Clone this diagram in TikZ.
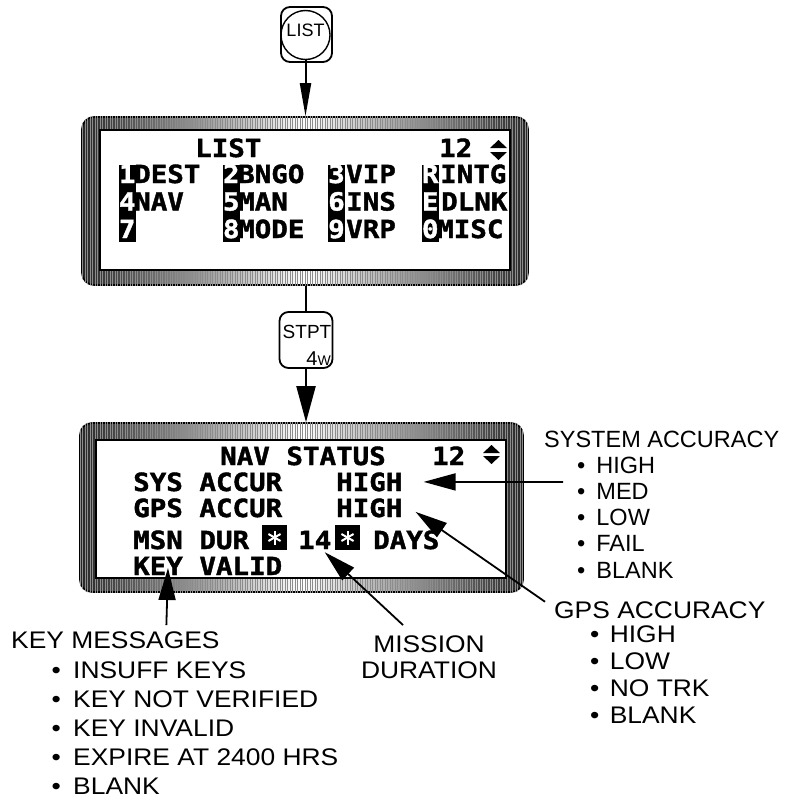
\documentclass[tikz,border=0pt]{standalone}
\usepackage{fontspec}
\setsansfont{Liberation Sans}
\newfontfamily\lblfont[FakeStretch=1.1]{Liberation Sans}
\newfontfamily\lcdfont[FakeStretch=1.1, FakeBold=1.6]{DejaVu Sans Mono}
\usetikzlibrary{arrows.meta, patterns.meta}

\begin{document}
\begin{tikzpicture}[x=1pt, y=-1pt,
    bezel/.style={draw, line width=1.6, rounded corners=12,
      left color=black!85, right color=black!85, middle color=white},
    screen/.style={draw, line width=1.4, fill=white},
    keycap/.style={draw, line width=1.8, rounded corners=9},
    keyname/.style={font=\sffamily\fontsize{17}{17}\selectfont, inner sep=0},
    lcd/.style={font=\lcdfont\bfseries\fontsize{25}{25}\selectfont,
      anchor=base west, inner sep=0},
    lcdinv/.style={lcd, anchor=base, text=white},
    invbar/.style={fill=black, inner sep=0, anchor=north west},
    starbox/.style={fill=black, inner sep=0, minimum size=25},
    hdr/.style={font=\lblfont\fontsize{24}{26}\selectfont,
      anchor=base west, inner sep=0},
    sysitem/.style={hdr, font=\sffamily\fontsize{23.5}{26}\selectfont},
    callout/.style={line width=1.8, -{Triangle[length=32pt, width=17pt]}},
    keyarrow/.style={line width=2, -{Triangle[length=33pt, width=11pt]}},
    keyarrowwide/.style={line width=2, -{Triangle[length=36pt, width=19pt]}}]
  \useasboundingbox (0,0) rectangle (785,800);

  % LIST key
  \node[keycap, minimum width=51, minimum height=55] (listkey) at (306.5,34.5) {};
  \node[draw, circle, line width=1.4, minimum size=49, inner sep=0] (listring)
    at (305.5,35) {};
  \node[keyname, font=\sffamily\fontsize{18}{18}\selectfont] (listtxt)
    at (305.5,30) {LIST};

  % top display
  \node[bezel, minimum width=446, minimum height=168] (topdisp) at (305,201) {};
  \path[pattern={Lines[angle=90, distance=2.5pt, line width=0.7pt]},
    pattern color=black!45, rounded corners=12]
    (topdisp.south west) rectangle (topdisp.north east);
  \node[screen, minimum width=410, minimum height=140] (topscr) at (305,200) {};
  \node[lcd] (listhd) at (195,157) {LIST};
  \node[lcd] (listpg) at (439,157) {12};
  \fill (490,148) -- (498.5,140) -- (507,148) -- cycle;
  \fill (490,152) -- (498.5,160) -- (507,152) -- cycle;
  \foreach \x/\n in {119/c1, 223/c2, 328/c3, 422/c4}
    \node[invbar, minimum width=16.5, minimum height=77] (bar\n) at (\x,165) {};
  \foreach \cx/\a/\b/\c in {127.25/1/4/7, 231.25/2/5/8, 336.5/3/6/9, 430.25/R/E/0} {
    \node[lcdinv] (k\a) at (\cx,183) {\a};
    \node[lcdinv] (k\b) at (\cx,210.5) {\b};
    \node[lcdinv] (k\c) at (\cx,238) {\c};
  }
  \node[lcd] (dest) at (134,183) {DEST};
  \node[lcd] (nav) at (134,210.5) {NAV};
  \node[lcd] (bngo) at (238,183) {BNGO};
  \node[lcd] (man) at (238,210.5) {MAN};
  \node[lcd] (mode) at (238,238) {MODE};
  \node[lcd] (vip) at (346,183) {VIP};
  \node[lcd] (ins) at (346,210.5) {INS};
  \node[lcd] (vrp) at (346,238) {VRP};
  \node[lcd] (intg) at (440,183) {INTG};
  \node[lcd] (dlnk) at (441,210.5) {DLNK};
  \node[lcd] (misc) at (437,238) {MISC};

  % STPT key
  \node[keycap, minimum width=53, minimum height=56] (stptkey) at (306,340) {};
  \node[keyname, font=\sffamily\fontsize{19}{19}\selectfont, anchor=base]
    (stpttxt) at (307,338) {STPT};
  \node[keyname, font=\sffamily\fontsize{20}{20}\selectfont, anchor=base east]
    (stptsub) at (331,365) {4{\fontsize{14}{14}\selectfont W}};

  % bottom display
  \node[bezel, minimum width=443, minimum height=169] (botdisp) at (301.5,507.5) {};
  \path[pattern={Lines[angle=90, distance=2.5pt, line width=0.7pt]},
    pattern color=black!45, rounded corners=12]
    (botdisp.south west) rectangle (botdisp.north east);
  \node[screen, minimum width=410, minimum height=138] (botscr) at (301,509) {};
  \node[lcd] (navst) at (220,465) {NAV STATUS};
  \node[lcd] (navpg) at (432,465) {12};
  \fill (483,453) -- (491.5,445) -- (500,453) -- cycle;
  \fill (483,456) -- (491.5,464) -- (500,456) -- cycle;
  \node[lcd] (sysacc) at (133,491) {SYS ACCUR};
  \node[lcd] (syshigh) at (336,491) {HIGH};
  \node[lcd] (gpsacc) at (133,517) {GPS ACCUR};
  \node[lcd] (gpshigh) at (336,517) {HIGH};
  \node[lcd] (msndur) at (133,549) {MSN DUR};
  \node[starbox] (star1) at (274.5,537.5) {};
  \node[lcd] (dur14) at (298,549) {14};
  \node[starbox] (star2) at (347.5,537.5) {};
  \node[lcd] (days) at (373,549) {DAYS};
  \node[lcd] (keyval) at (133,575) {KEY VALID};
  \foreach \s in {star1, star2}
    \foreach \a in {90, 30, 150}
      \draw[white, line width=2] ([shift={(\a:7)}]\s.center)
        -- ([shift={(\a+180:7)}]\s.center);

  % key connectors
  \draw[keyarrow] (listring.south) -- (listring.south |- topdisp.north);
  \draw[line width=2] (topdisp.south -| stptkey.north) -- (stptkey.north);
  \draw[keyarrowwide] (stptkey.south) -- (stptkey.south |- botdisp.north);

  % system accuracy
  \node[sysitem] (syshd) at (544,447) {SYSTEM ACCURACY};
  \foreach \t [count=\i] in {HIGH, MED, LOW, FAIL, BLANK}
    \node[sysitem] (sysit\i) at (577,447+26.2*\i) {\textbullet\hspace{11pt}\t};

  % gps accuracy
  \node[hdr] (gpshd) at (554,618) {GPS ACCURACY};
  \foreach \t [count=\i] in {HIGH, LOW, NO TRK, BLANK}
    \node[hdr] (gpsit\i) at (590,615+27*\i) {\textbullet\hspace{10.4pt}\t};

  % key messages
  \node[hdr] (keyhd) at (11,648) {KEY MESSAGES};
  \foreach \t [count=\i] in {INSUFF KEYS, KEY NOT VERIFIED, KEY INVALID,
      EXPIRE AT 2400 HRS, BLANK}
    \node[hdr] (keyit\i) at (51.4,649+29*\i) {\textbullet\hspace{12.4pt}\t};

  % mission duration
  \node[hdr, anchor=base] (mission) at (429,652) {MISSION};
  \node[hdr, anchor=base] (duration) at (429,678) {DURATION};

  % callouts
  \draw[callout] ([xshift=19, yshift=-35]syshd.base west) -- ([xshift=21]syshigh.east);
  \draw[callout] ([xshift=-9, yshift=8]gpshd.west) -- ([xshift=13, yshift=-4]gpshigh.east);
  \draw[callout] ([xshift=-26, yshift=10]mission.north) -- ([xshift=10, yshift=-3]dur14.south);
  \draw[callout] ([xshift=51, yshift=6]keyhd.north) -- ([xshift=35, yshift=7]keyval.base west);
\end{tikzpicture}
\end{document}
